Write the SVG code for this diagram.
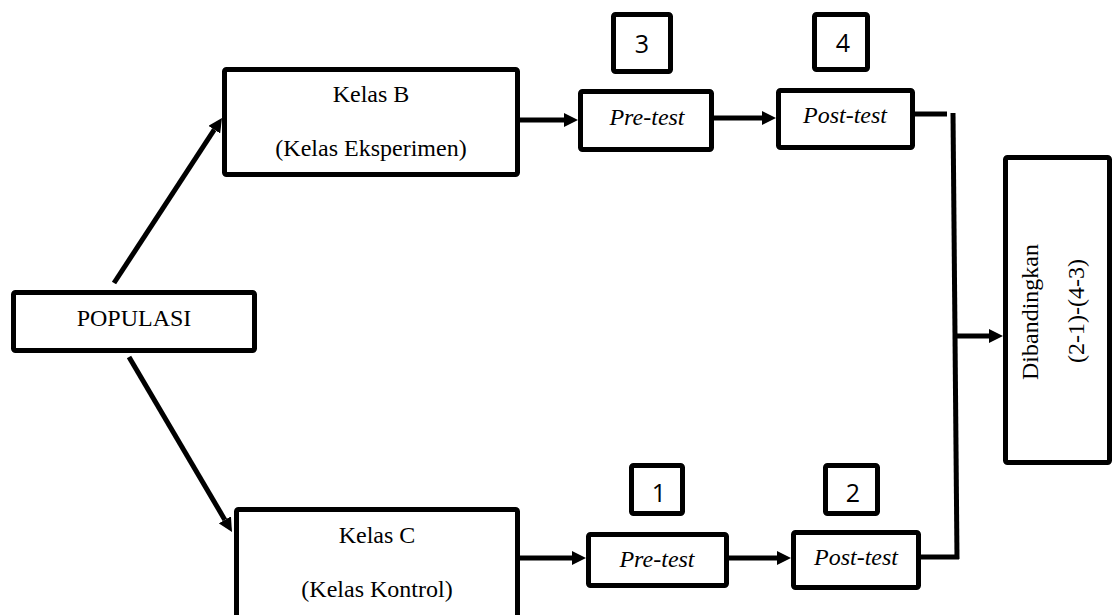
<svg xmlns="http://www.w3.org/2000/svg" width="1114" height="615" viewBox="0 0 1114 615">
<style>
.box{fill:#fff;stroke:#000;stroke-width:5;}
.t{font-family:"Liberation Serif","Times New Roman",serif;font-size:24px;fill:#000;text-anchor:middle;}
.i{font-style:italic;}
.n{font-family:"Open Sans","Liberation Sans",sans-serif;font-size:25px;fill:#000;text-anchor:middle;}
.c{stroke:#000;stroke-width:5;fill:none;}
</style>
<defs>
<marker id="ah" viewBox="0 0 14 14" markerWidth="14" markerHeight="14" markerUnits="userSpaceOnUse" refX="0" refY="7" orient="auto">
<path d="M0,0 L14,7 L0,14 z" fill="#000"/>
</marker>
</defs>
<rect width="1114" height="615" fill="#fff"/>
<g id="connectors">
<line class="c" x1="114" y1="283" x2="214.3" y2="129.7" marker-end="url(#ah)"/>
<line class="c" x1="129" y1="357" x2="224.9" y2="519.9" marker-end="url(#ah)"/>
<line class="c" x1="520" y1="120" x2="564" y2="120" marker-end="url(#ah)"/>
<line class="c" x1="714" y1="118" x2="762" y2="118" marker-end="url(#ah)"/>
<line class="c" x1="915" y1="114" x2="947" y2="114"/>
<line class="c" x1="953" y1="113" x2="957" y2="559"/>
<line class="c" x1="921" y1="557" x2="959" y2="557"/>
<line class="c" x1="956" y1="336" x2="989" y2="336" marker-end="url(#ah)"/>
<line class="c" x1="518" y1="558" x2="572" y2="558" marker-end="url(#ah)"/>
<line class="c" x1="729" y1="558" x2="777" y2="558" marker-end="url(#ah)"/>
</g>
<g id="populasi">
<rect class="box" x="13.5" y="292.5" width="241" height="58" rx="2"/>
<text class="t" x="134" y="326">POPULASI</text>
</g>
<g id="kelasB">
<rect class="box" x="224.5" y="69.5" width="293" height="105" rx="2"/>
<text class="t" x="371" y="102">Kelas B</text>
<text class="t" x="371" y="156">(Kelas Eksperimen)</text>
</g>
<g id="kelasC">
<rect class="box" x="236.5" y="509.5" width="281" height="120" rx="2"/>
<text class="t" x="377" y="543">Kelas C</text>
<text class="t" x="377" y="597">(Kelas Kontrol)</text>
</g>
<g id="pretestB">
<rect class="box" x="580.5" y="91.5" width="131" height="58" rx="2"/>
<text class="t i" x="647" y="125">Pre-test</text>
</g>
<g id="posttestB">
<rect class="box" x="778.5" y="90.5" width="134" height="57" rx="2"/>
<text class="t i" x="845" y="123">Post-test</text>
</g>
<g id="pretestC">
<rect class="box" x="588.5" y="534.5" width="138" height="51" rx="2"/>
<text class="t i" x="657" y="567">Pre-test</text>
</g>
<g id="posttestC">
<rect class="box" x="793.5" y="532.5" width="125" height="55" rx="2"/>
<text class="t i" x="856" y="565">Post-test</text>
</g>
<g id="num3">
<rect class="box" x="613.5" y="14.5" width="57" height="57" rx="2"/>
<text class="n" x="642" y="53">3</text>
</g>
<g id="num4">
<rect class="box" x="814.5" y="14.5" width="53" height="55" rx="2"/>
<text class="n" x="843" y="52">4</text>
</g>
<g id="num1">
<rect class="box" x="631.5" y="465.5" width="51" height="48" rx="2"/>
<text class="n" x="659" y="502">1</text>
</g>
<g id="num2">
<rect class="box" x="825.5" y="465.5" width="52" height="48" rx="2"/>
<text class="n" x="853" y="502">2</text>
</g>
<g id="dibandingkan">
<rect class="box" x="1005.5" y="157.5" width="104" height="305" rx="2"/>
<text class="t" transform="translate(1038,312) rotate(-90)">Dibandingkan</text>
<text class="t" transform="translate(1084,311) rotate(-90)">(2-1)-(4-3)</text>
</g>
</svg>
